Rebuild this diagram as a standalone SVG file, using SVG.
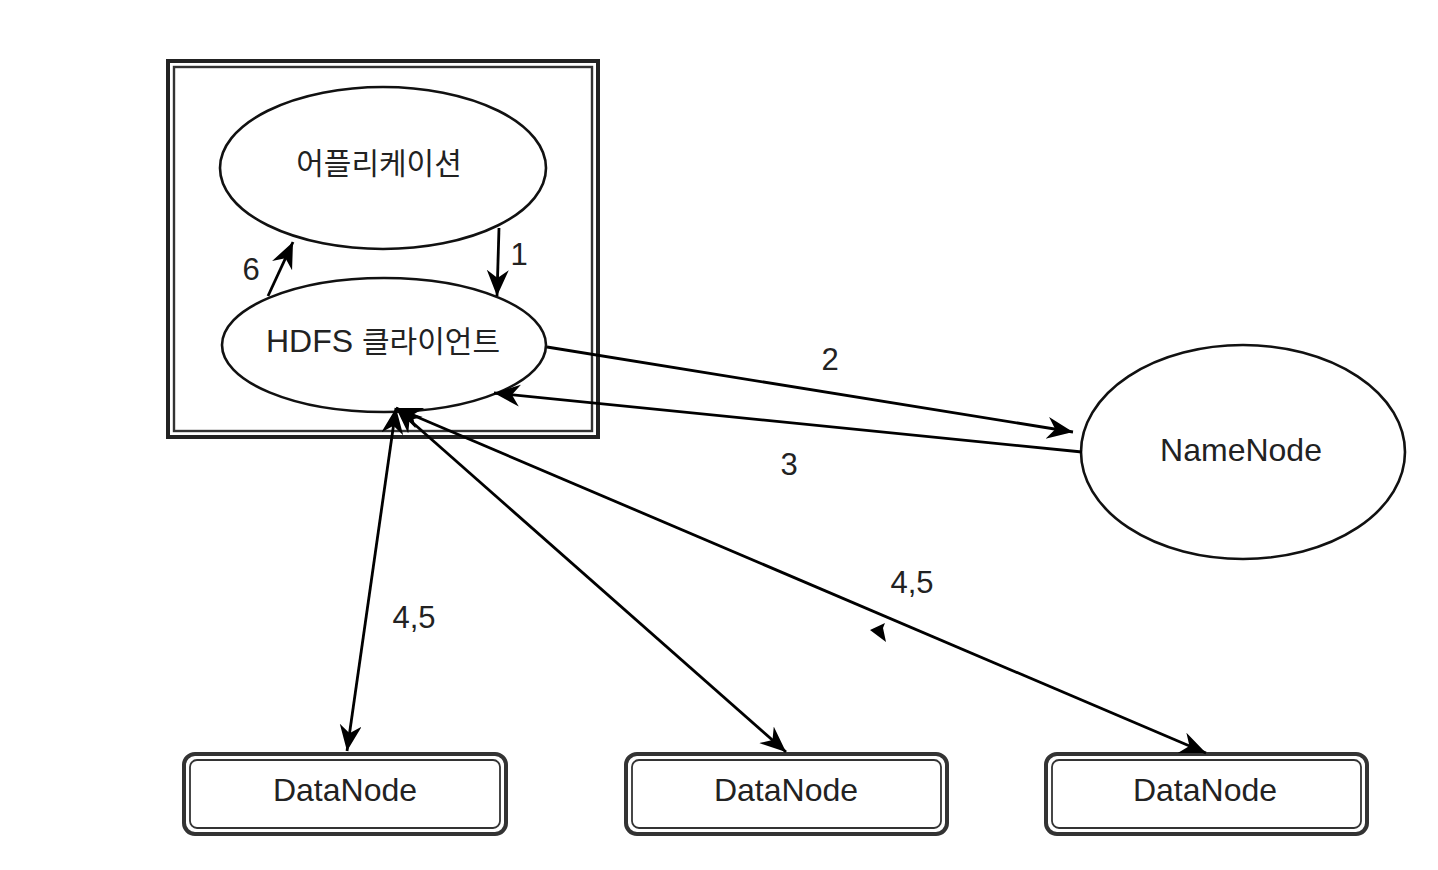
<svg xmlns="http://www.w3.org/2000/svg" width="1438" height="870" viewBox="0 0 1438 870">
<style>
.shape{fill:#fff;stroke:#111;stroke-width:2.6}
.lbl{font-family:"Liberation Sans","Noto Sans CJK KR",Arial,sans-serif;font-size:32px;fill:#222;text-anchor:middle}
.kr{font-family:"Noto Sans CJK KR","Liberation Sans",sans-serif;font-size:30px;fill:#222}
.num{font-family:"Liberation Sans",Arial,sans-serif;font-size:31px;fill:#222;text-anchor:middle}
.edge{fill:none;stroke:#000;stroke-width:2.8}
</style>
<defs>
<marker id="ah" markerUnits="userSpaceOnUse" markerWidth="30" markerHeight="24" refX="26" refY="11" orient="auto-start-reverse">
<path d="M0,0 L26,11 L0,22 L8,11 Z" fill="#000"/>
</marker>
</defs>
<rect width="1438" height="870" fill="#fff"/>

<g id="client-host">
<rect x="168" y="61" width="430" height="376" fill="none" stroke="#222" stroke-width="4"/>
<rect x="174" y="67" width="418" height="364" fill="none" stroke="#333" stroke-width="2.4"/>
</g>

<g id="application">
<ellipse class="shape" cx="383" cy="168" rx="163" ry="81"/>
<text class="kr" x="379" y="174" text-anchor="middle">어플리케이션</text>
</g>

<g id="hdfs-client">
<ellipse class="shape" cx="384" cy="345" rx="162" ry="67"/>
<text class="lbl" x="383" y="352"><tspan>HDFS </tspan><tspan class="kr" font-size="29">클라이언트</tspan></text>
</g>

<g id="namenode">
<ellipse class="shape" cx="1243" cy="452" rx="162" ry="107"/>
<text class="lbl" x="1241" y="461">NameNode</text>
</g>

<g id="datanode1">
<rect x="184" y="754" width="322" height="80" rx="11" fill="#fff" stroke="#333" stroke-width="4"/>
<rect x="190" y="760" width="310" height="68" rx="7" fill="none" stroke="#333" stroke-width="1.8"/>
<text class="lbl" x="345" y="801">DataNode</text>
</g>
<g id="datanode2">
<rect x="626" y="754" width="321" height="80" rx="11" fill="#fff" stroke="#333" stroke-width="4"/>
<rect x="632" y="760" width="309" height="68" rx="7" fill="none" stroke="#333" stroke-width="1.8"/>
<text class="lbl" x="786" y="801">DataNode</text>
</g>
<g id="datanode3">
<rect x="1046" y="754" width="321" height="80" rx="11" fill="#fff" stroke="#333" stroke-width="4"/>
<rect x="1052" y="760" width="309" height="68" rx="7" fill="none" stroke="#333" stroke-width="1.8"/>
<text class="lbl" x="1205" y="801">DataNode</text>
</g>

<g id="connectors">
<line class="edge" x1="499" y1="228" x2="497" y2="296" marker-end="url(#ah)"/>
<line class="edge" x1="268" y1="296" x2="293" y2="242" marker-end="url(#ah)"/>
<line class="edge" x1="547" y1="347" x2="1073" y2="432" marker-end="url(#ah)"/>
<line class="edge" x1="1082" y1="452" x2="494" y2="393" marker-end="url(#ah)"/>
<line class="edge" x1="396" y1="408" x2="347" y2="751" marker-start="url(#ah)" marker-end="url(#ah)"/>
<line class="edge" x1="396" y1="408" x2="786" y2="752" marker-start="url(#ah)" marker-end="url(#ah)"/>
<line class="edge" x1="396" y1="408" x2="1206" y2="753" marker-start="url(#ah)" marker-end="url(#ah)"/>
<path d="M870,630 L885,623 L883,628 L886,642 Z" fill="#000"/>
<text class="num" x="519" y="265">1</text>
<text class="num" x="251" y="280">6</text>
<text class="num" x="830" y="370">2</text>
<text class="num" x="789" y="475">3</text>
<text class="num" x="414" y="628">4,5</text>
<text class="num" x="912" y="593">4,5</text>
</g>
</svg>
